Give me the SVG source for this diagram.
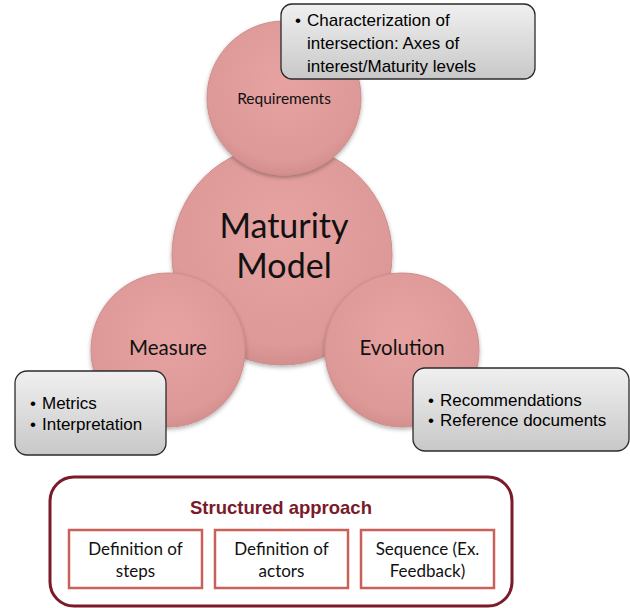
<svg xmlns="http://www.w3.org/2000/svg" width="630" height="608" viewBox="0 0 630 608">
<defs>
<radialGradient id="cg" cx="0.5" cy="0.4" r="0.6">
<stop offset="0" stop-color="#e6a3a2"/>
<stop offset="0.85" stop-color="#dc9998"/>
<stop offset="1" stop-color="#d38f8e"/>
</radialGradient>
<linearGradient id="bg" x1="0" y1="0" x2="0" y2="1">
<stop offset="0" stop-color="#f0f0f0"/>
<stop offset="1" stop-color="#c8c8c8"/>
</linearGradient>
<filter id="sh" x="-20%" y="-20%" width="140%" height="140%">
<feDropShadow dx="0" dy="2" stdDeviation="2" flood-color="#000" flood-opacity="0.3"/>
</filter>
</defs>
<style>
.circ{fill:url(#cg);stroke:#cf8d8c;stroke-width:1;filter:url(#sh)}
.ct{font-family:Lato,"Liberation Sans",sans-serif;fill:#111;text-anchor:middle}
.box{fill:url(#bg);stroke:#2b2b2b;stroke-width:1.3}
.bt{font-family:"Liberation Sans",Arial,sans-serif;font-size:17px;fill:#000}
.outer{fill:#fff;stroke:#7a1a2a;stroke-width:3}
.inner{fill:#fff;stroke:#c9605a;stroke-width:2.5}
.it{font-family:Lato,"Liberation Sans",sans-serif;font-size:17px;fill:#111;text-anchor:middle}
</style>
<g id="maturity-model">
<circle class="circ" cx="282" cy="255" r="110"/>
<text class="ct" x="284" y="238" font-size="34">Maturity</text>
<text class="ct" x="284" y="278" font-size="34">Model</text>
</g>
<g id="requirements">
<circle class="circ" cx="284" cy="98" r="77"/>
<text class="ct" x="284" y="104" font-size="15.5">Requirements</text>
</g>
<g id="measure">
<circle class="circ" cx="168" cy="350" r="77"/>
<text class="ct" x="168" y="355" font-size="20.5">Measure</text>
</g>
<g id="evolution">
<circle class="circ" cx="402" cy="350" r="77"/>
<text class="ct" x="402" y="355" font-size="20.5">Evolution</text>
</g>
<g id="requirements-note">
<rect class="box" x="281" y="4" width="254" height="75" rx="11"/>
<text class="bt" x="295" y="26">•</text>
<text class="bt" x="307" y="26">Characterization of</text>
<text class="bt" x="307" y="49">intersection: Axes of</text>
<text class="bt" x="307" y="72">interest/Maturity levels</text>
</g>
<g id="measure-note">
<rect class="box" x="15" y="371" width="151" height="84" rx="12"/>
<text class="bt" x="30" y="409">•</text>
<text class="bt" x="42" y="409">Metrics</text>
<text class="bt" x="30" y="430">•</text>
<text class="bt" x="42" y="430">Interpretation</text>
</g>
<g id="evolution-note">
<rect class="box" x="413" y="368" width="216" height="83" rx="12"/>
<text class="bt" x="428" y="406">•</text>
<text class="bt" x="440" y="406">Recommendations</text>
<text class="bt" x="428" y="426">•</text>
<text class="bt" x="440" y="426">Reference documents</text>
</g>
<g id="structured-approach">
<rect class="outer" x="50" y="477" width="462" height="129" rx="24"/>
<text x="281" y="514" font-family="Liberation Sans,Arial,sans-serif" font-size="18.5" font-weight="bold" fill="#7a1a2a" text-anchor="middle">Structured approach</text>
</g>
<g id="steps">
<rect class="inner" x="69" y="530" width="133" height="58"/>
<text class="it" x="135.5" y="555">Definition of</text>
<text class="it" x="135.5" y="577">steps</text>
</g>
<g id="actors">
<rect class="inner" x="215" y="530" width="133" height="58"/>
<text class="it" x="281.5" y="555">Definition of</text>
<text class="it" x="281.5" y="577">actors</text>
</g>
<g id="sequence">
<rect class="inner" x="361" y="530" width="133" height="58"/>
<text class="it" x="427.5" y="555">Sequence (Ex.</text>
<text class="it" x="427.5" y="577">Feedback)</text>
</g>
<g id="connectors"/>
</svg>
